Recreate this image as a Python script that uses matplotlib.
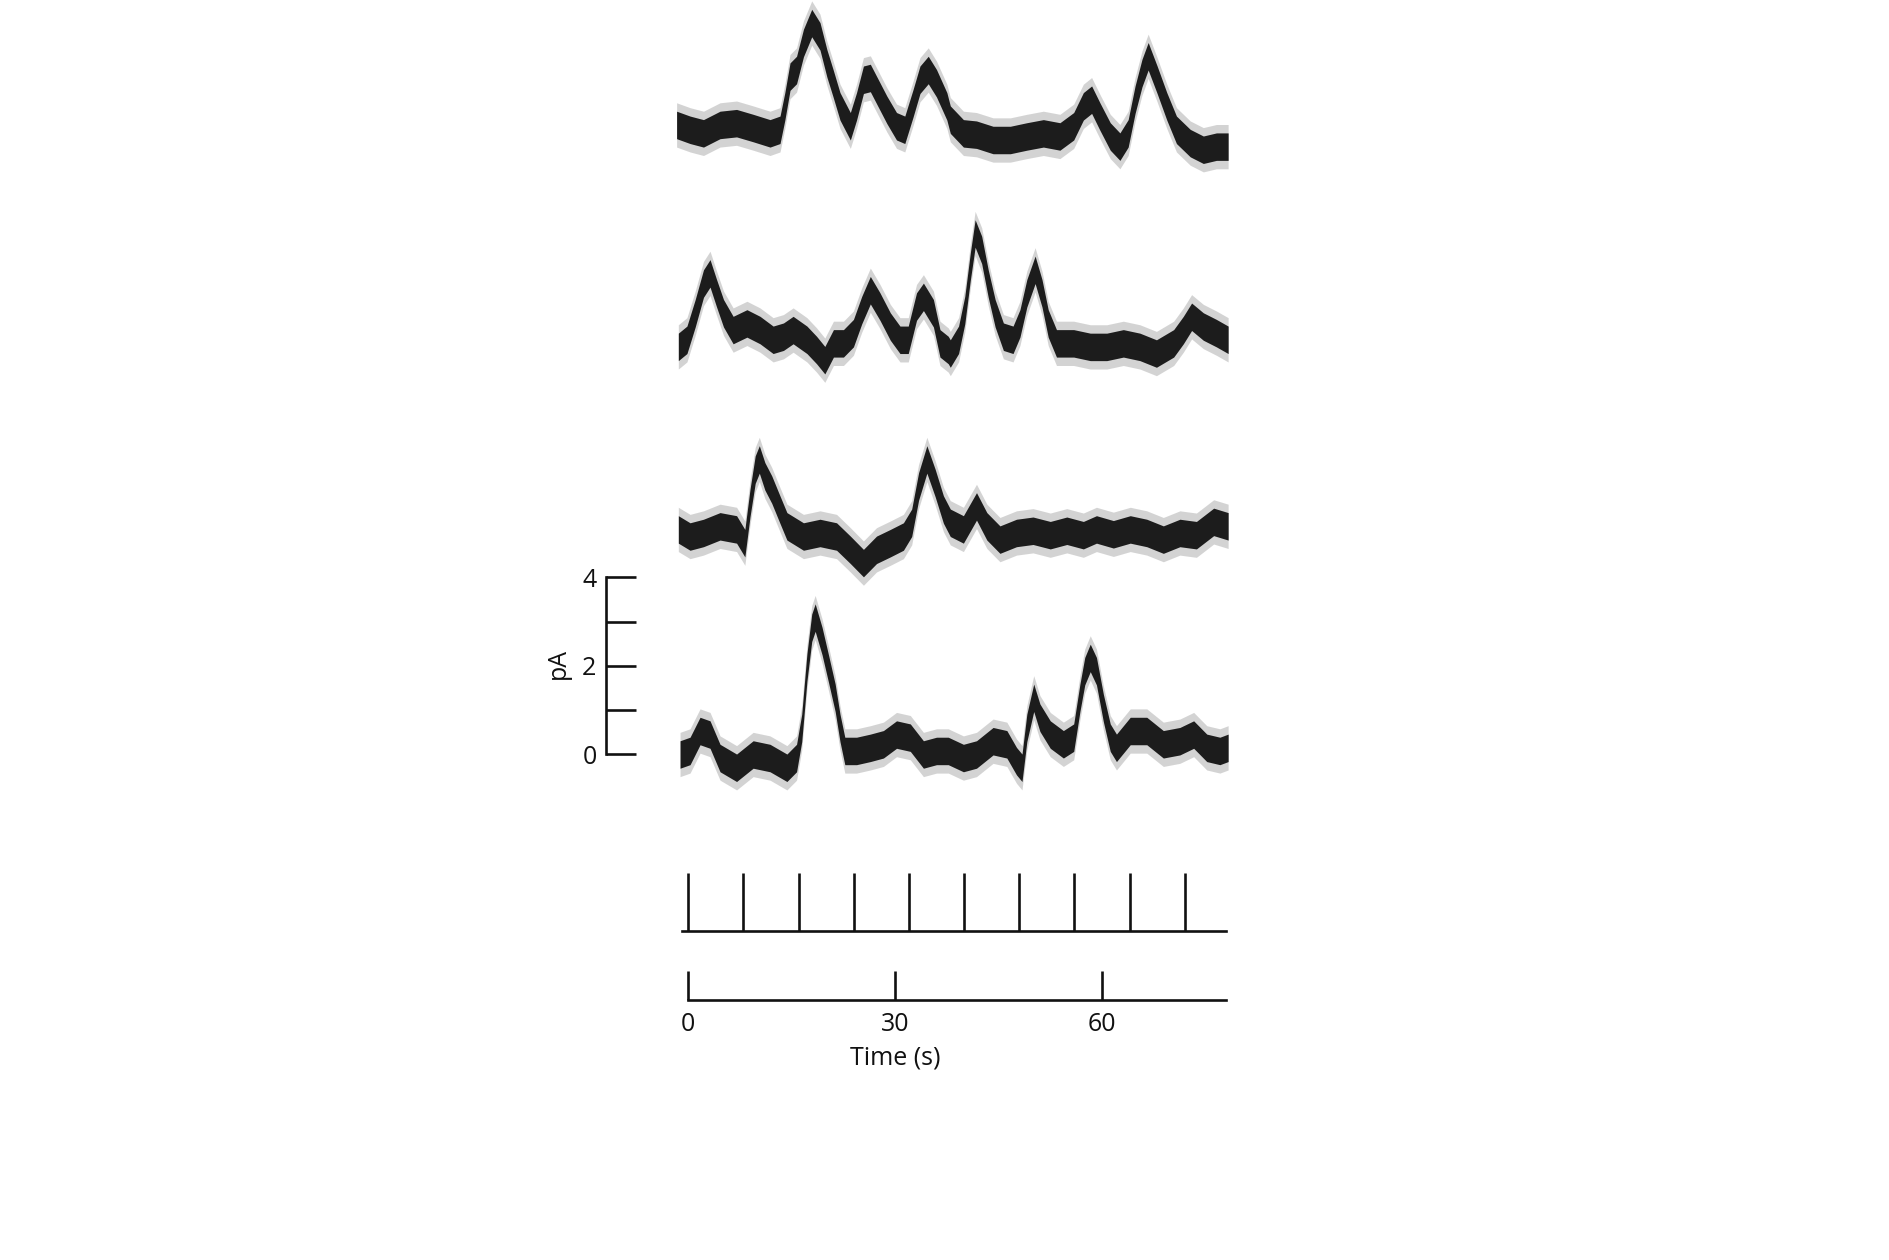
import matplotlib
matplotlib.use("Agg")
import matplotlib.pyplot as plt
import numpy as np

plt.rcParams['font.family'] = ['Open Sans', 'DejaVu Sans']

# ---------------- data (time in s, current in pA relative to each trace's baseline)
trace1_t = [-1.7, 0.25, 2.2, 4.6, 7.0, 9.4, 11.85, 13.3, 14.0, 14.75, 15.7, 16.7, 17.9,
            19.1, 20.1, 21.0, 22.0, 23.5, 24.4, 25.4, 26.4, 27.3, 28.8, 30.2, 31.4, 32.6,
            33.6, 34.8, 36.0, 37.5, 38.0, 39.9, 41.8, 44.2, 46.7, 49.1, 51.5, 53.9, 55.9,
            57.3, 58.5, 59.7, 61.2, 62.6, 63.8, 64.8, 65.8, 66.7, 68.0, 69.4, 70.8, 72.8,
            74.7, 76.6, 78.3]
trace1_v = [0.11, 0.0, -0.08, 0.11, 0.15, 0.04, -0.08, 0.0, 0.53, 1.20, 1.35, 1.96, 2.41,
            2.11, 1.50, 1.05, 0.53, 0.08, 0.53, 1.13, 1.17, 0.90, 0.45, 0.08, 0.0, 0.60,
            1.13, 1.35, 1.05, 0.53, 0.23, -0.08, -0.11, -0.23, -0.23, -0.15, -0.08, -0.15, 0.08,
            0.53, 0.68, 0.30, -0.15, -0.38, -0.08, 0.68, 1.28, 1.66, 1.13, 0.53, 0.0, -0.30,
            -0.45, -0.38, -0.38]

trace2_t = [-1.45, -0.2, 1.0, 2.2, 3.15, 4.1, 5.1, 6.5, 8.5, 10.4, 12.3, 13.8, 15.2, 17.2,
            18.6, 19.8, 21.05, 22.5, 23.95, 25.15, 26.4, 27.8, 29.3, 30.7, 31.9, 33.1, 34.1,
            35.55, 36.5, 37.7, 38.0, 39.2, 40.1, 40.9, 41.6, 42.55, 43.5, 44.5, 45.7, 47.1,
            48.1, 49.1, 50.3, 51.3, 52.2, 53.4, 55.9, 58.3, 60.7, 63.1, 65.5, 67.9, 70.4,
            71.8, 73.0, 74.7, 76.6, 78.3]
trace2_v = [-0.08, 0.08, 0.68, 1.35, 1.58, 1.13, 0.68, 0.30, 0.45, 0.30, 0.08, 0.15, 0.30, 0.08,
            -0.15, -0.38, 0.0, 0.0, 0.23, 0.75, 1.20, 0.83, 0.38, 0.08, 0.08, 0.83, 1.05,
            0.68, 0.0, -0.15, -0.23, 0.08, 0.75, 1.73, 2.48, 2.11, 1.35, 0.68, 0.15, 0.08,
            0.45, 1.13, 1.66, 1.13, 0.45, 0.0, 0.0, -0.08, -0.08, 0.0, -0.08, -0.23, 0.0,
            0.30, 0.60, 0.38, 0.23, 0.08]

trace3_t = [-1.45, 0.25, 2.2, 4.6, 7.0, 8.2, 8.95, 9.7, 10.3, 11.1, 12.1, 13.1, 14.3, 16.7,
            19.1, 21.5, 23.5, 25.4, 27.3, 29.3, 31.2, 32.4, 33.4, 34.6, 35.8, 37.0, 38.0,
            39.9, 41.8, 43.3, 45.2, 47.6, 50.0, 52.5, 54.9, 57.3, 59.2, 61.65, 64.1, 66.5,
            68.9, 71.3, 73.7, 76.2, 78.3]
trace3_v = [0.08, -0.08, 0.0, 0.15, 0.08, -0.23, 0.68, 1.43, 1.66, 1.28, 0.98, 0.60, 0.15, -0.08,
            0.0, -0.08, -0.38, -0.68, -0.38, -0.23, -0.08, 0.23, 1.05, 1.66, 1.13, 0.53, 0.23,
            0.08, 0.60, 0.15, -0.15, 0.0, 0.05, -0.05, 0.05, -0.05, 0.08, -0.03, 0.08, 0.0,
            -0.15, 0.0, -0.05, 0.25, 0.15]

trace4_t = [-1.2, 0.25, 1.7, 3.15, 4.6, 7.0, 9.4, 11.85, 14.3, 15.7, 16.45, 17.2, 17.9, 18.4,
            19.4, 20.3, 21.3, 22.0, 22.7, 24.4, 26.4, 28.3, 30.2, 32.2, 34.1, 36.0, 37.7,
            39.9, 41.8, 44.2, 46.2, 47.6, 48.4, 49.1, 50.1, 51.0, 52.5, 54.4, 55.9, 56.8,
            57.5, 58.3, 59.2, 60.2, 61.2, 62.1, 64.1, 66.5, 68.9, 71.3, 73.3, 75.2, 77.1, 78.3]
trace4_v = [0.0, 0.08, 0.53, 0.45, -0.08, -0.30, 0.0, -0.08, -0.30, -0.08, 0.60, 1.96, 2.86, 3.09,
            2.56, 1.96, 1.28, 0.60, 0.08, 0.08, 0.15, 0.23, 0.45, 0.38, 0.0, 0.08, 0.08,
            -0.08, 0.0, 0.30, 0.23, -0.15, -0.30, 0.60, 1.28, 0.83, 0.45, 0.23, 0.38, 1.28,
            1.88, 2.18, 1.88, 1.05, 0.38, 0.15, 0.53, 0.53, 0.23, 0.30, 0.45, 0.15, 0.08, 0.15]

trace_times = [trace1_t, trace2_t, trace3_t, trace4_t]
trace_values = [trace1_v, trace2_v, trace3_v, trace4_v]
trace_offsets = [14.10, 9.28, 5.0, 0.0]          # vertical stacking (pA)
noise_core = 0.31                                  # half width of dense noise band (pA)
noise_fringe = 0.50                                # half width of sparse noise spikes (pA)

pa_major = [0, 2, 4]
pa_minor = [1, 3]
time_major = [0, 30, 60]
time_grid = [0, 8, 16, 24, 32, 40, 48, 56, 64, 72]
time_end = 78

# ---------------- figure
fig = plt.figure(figsize=(18.9, 12.6), dpi=100)
XLIM = (-99.84, 174.3)
FS = 18
INK = '#111111'

ax = fig.add_axes([0, 0, 1, 1])
ax.patch.set_visible(False)
ax.set_xlim(*XLIM)
ax.set_ylim(-11.41, 17.03)

for t, v, off in zip(trace_times, trace_values, trace_offsets):
    t = np.asarray(t)
    v = np.asarray(v) + off
    ax.fill_between(t, v - noise_fringe, v + noise_fringe, color='#3a3a3a', alpha=0.22, lw=0)
    ax.fill_between(t, v - noise_core, v + noise_core, color='#1c1c1c', lw=0)

lw = 1.9
for s in ['top', 'right', 'bottom']:
    ax.spines[s].set_visible(False)
ax.spines['left'].set_position(('data', -11.9))
ax.spines['left'].set_bounds(0, 4)
ax.spines['left'].set_linewidth(lw)
ax.spines['left'].set_color(INK)
ax.set_xticks([])
ax.set_yticks(pa_major)
ax.set_yticklabels([str(v) for v in pa_major])
ax.set_yticks(pa_minor, minor=True)
ax.tick_params(axis='y', which='both', direction='in', length=21.6, width=lw,
               color=INK, labelsize=FS, labelcolor=INK, pad=7)
ax.text(-18.8, 2.05, 'pA', rotation=90, ha='center', va='center', fontsize=FS, color=INK)

# upper time row (8 s grid)
ax_t1 = fig.add_axes([0, 0.2614, 1, 0.05])
ax_t1.patch.set_visible(False)
ax_t1.set_xlim(*XLIM)
for s in ['top', 'right', 'left']:
    ax_t1.spines[s].set_visible(False)
ax_t1.spines['bottom'].set_bounds(-0.9, time_end)
ax_t1.spines['bottom'].set_linewidth(lw)
ax_t1.spines['bottom'].set_color(INK)
ax_t1.set_yticks([])
ax_t1.set_xticks(time_grid)
ax_t1.tick_params(axis='x', direction='in', length=41.7, width=lw, color=INK,
                  labelbottom=False)

# lower time row (labelled)
ax_t2 = fig.add_axes([0, 0.2060, 1, 0.03])
ax_t2.patch.set_visible(False)
ax_t2.set_xlim(*XLIM)
for s in ['top', 'right', 'left']:
    ax_t2.spines[s].set_visible(False)
ax_t2.spines['bottom'].set_bounds(0, time_end)
ax_t2.spines['bottom'].set_linewidth(lw)
ax_t2.spines['bottom'].set_color(INK)
ax_t2.set_yticks([])
ax_t2.set_xticks(time_major)
ax_t2.set_xticklabels([str(v) for v in time_major])
ax_t2.tick_params(axis='x', direction='in', length=20.8, width=lw, color=INK,
                  labelsize=FS, labelcolor=INK, pad=8)
ax_t2.text(30, -1.52, 'Time (s)', transform=ax_t2.get_xaxis_transform(),
           ha='center', va='center', fontsize=FS, color=INK)

fig.savefig('out.png', dpi=100, facecolor='white')
